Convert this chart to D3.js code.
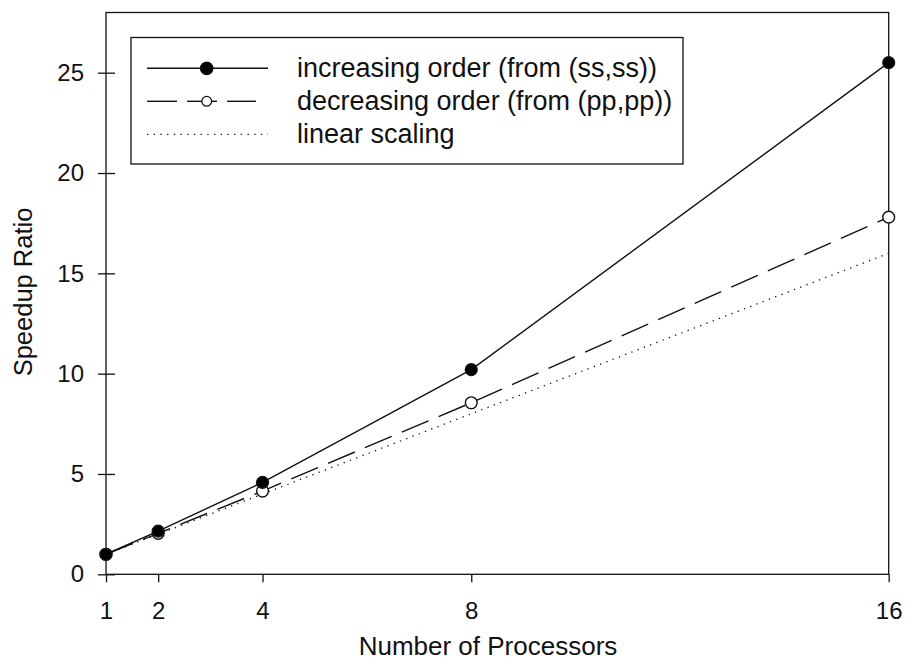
<!DOCTYPE html>
<html lang="en">
<head>
    <meta charset="UTF-8">
    <title>Speedup Ratio</title>
    <script src="https://d3js.org/d3.v7.min.js"></script>
    <style>
        body { margin: 0; background: #fff; }
        text { font-family: "Liberation Sans", Arial, sans-serif; fill: #111; }
    </style>
</head>
<body>
<script type="text/javascript">
    // data
    var processors = [1, 2, 4, 8, 16];
    var increasing = [1.0, 2.15, 4.58, 10.2, 25.5];
    var decreasing = [1.0, 2.04, 4.15, 8.55, 17.8];
    var linear = [1, 2, 4, 8, 16];
    var xTicks = [1, 2, 4, 8, 16];
    var yTicks = [0, 5, 10, 15, 20, 25];
    var legendLabels = ["increasing order (from (ss,ss))", "decreasing order (from (pp,pp))", "linear scaling"];

    var svgWidth = 906;
    var svgHeight = 661;
    var plotLeft = 106, plotRight = 888.7, plotTop = 12.5, plotBottom = 574.3;

    var svg = d3.select("body").append("svg")
        .attr("width", svgWidth)
        .attr("height", svgHeight);

    var xScale = d3.scaleLinear().domain([1, 16]).range([plotLeft, plotRight]);
    var yScale = d3.scaleLinear().domain([0, 28]).range([plotBottom, plotTop]);

    // frame
    svg.append("rect")
        .attr("x", plotLeft).attr("y", plotTop)
        .attr("width", plotRight - plotLeft).attr("height", plotBottom - plotTop)
        .style("fill", "none").style("stroke", "#111").style("stroke-width", 1.3);

    var xAxis = d3.axisBottom(xScale).tickValues(xTicks).tickSize(8).tickSizeOuter(0).tickPadding(20);
    var gx = svg.append("g")
        .attr("transform", "translate(0," + plotBottom + ")")
        .call(xAxis);
    gx.select(".domain").remove();
    gx.selectAll("line").style("stroke", "#111").style("stroke-width", 1.3);
    gx.selectAll("text").attr("font-size", "24px").style("font-family", "Liberation Sans, Arial, sans-serif");

    var yAxis = d3.axisLeft(yScale).tickValues(yTicks).tickSize(8).tickSizeOuter(0);
    var gy = svg.append("g")
        .attr("transform", "translate(" + plotLeft + ",0)")
        .call(yAxis);
    gy.select(".domain").remove();
    gy.selectAll("line").attr("x2", -8).attr("x1", 9).style("stroke", "#111").style("stroke-width", 1.3);
    gy.selectAll("text").attr("font-size", "24px").attr("x", -22).style("font-family", "Liberation Sans, Arial, sans-serif");

    svg.append("text")
        .attr("x", 488)
        .attr("y", 655)
        .attr("text-anchor", "middle")
        .attr("font-size", "26px")
        .text("Number of Processors");

    svg.append("text")
        .attr("transform", "translate(31.5,292) rotate(-90)")
        .attr("text-anchor", "middle")
        .attr("font-size", "25.5px")
        .text("Speedup Ratio");

    var line = d3.line()
        .x(function (d) { return xScale(d[0]); })
        .y(function (d) { return yScale(d[1]); });

    var pairs = function (values) {
        return processors.map(function (p, i) { return [p, values[i]]; });
    };

    var styles = [
        { values: linear, dash: "1.3,5.4", width: 1.3, marker: null },
        { values: decreasing, dash: "29,11", width: 1.4, marker: "#fff" },
        { values: increasing, dash: null, width: 1.4, marker: "#000" }
    ];

    styles.forEach(function (s) {
        svg.append("path")
            .datum(pairs(s.values))
            .attr("d", line)
            .style("fill", "none")
            .style("stroke", "#111")
            .style("stroke-width", s.width)
            .style("stroke-dasharray", s.dash);
    });

    // markers: open first, filled on top
    [styles[1], styles[2]].forEach(function (s) {
        svg.selectAll(null)
            .data(pairs(s.values))
            .enter()
            .append("circle")
            .attr("cx", function (d) { return xScale(d[0]); })
            .attr("cy", function (d) { return yScale(d[1]); })
            .attr("r", 5.9)
            .style("fill", s.marker)
            .style("stroke", "#111")
            .style("stroke-width", 1.4);
    });

    // legend
    var legend = svg.append("g");
    legend.append("rect")
        .attr("x", 131).attr("y", 37.5)
        .attr("width", 552).attr("height", 126.5)
        .style("fill", "#fff").style("stroke", "#111").style("stroke-width", 1.3);

    var legendRows = [
        { label: legendLabels[0], dash: null, marker: "#000", width: 1.4, r: 6.2 },
        { label: legendLabels[1], dash: "29,11", marker: "#fff", width: 1.4, r: 4.9 },
        { label: legendLabels[2], dash: "1.3,5.4", marker: null, width: 1.3, r: 0 }
    ];
    var rowY = d3.scalePoint().domain(d3.range(legendRows.length)).range([68.3, 134.3]);

    legendRows.forEach(function (r, i) {
        var y = rowY(i);
        if (r.dash === "29,11") {
            [[147, 177], [187, 217], [227, 256]].forEach(function (seg) {
                legend.append("line").attr("x1", seg[0]).attr("x2", seg[1]).attr("y1", y).attr("y2", y)
                    .style("stroke", "#111").style("stroke-width", r.width);
            });
        } else {
            legend.append("line").attr("x1", 147).attr("x2", 268).attr("y1", y).attr("y2", y)
                .style("stroke", "#111").style("stroke-width", r.width)
                .style("stroke-dasharray", r.dash);
        }
        if (r.marker) {
            legend.append("circle").attr("cx", 206.7).attr("cy", y)
                .attr("r", r.r)
                .style("fill", r.marker).style("stroke", "#111").style("stroke-width", 1.3);
        }
        legend.append("text")
            .attr("x", 297).attr("y", y + 8.4)
            .attr("font-size", "27px")
            .text(r.label);
    });
</script>
</body>
</html>
